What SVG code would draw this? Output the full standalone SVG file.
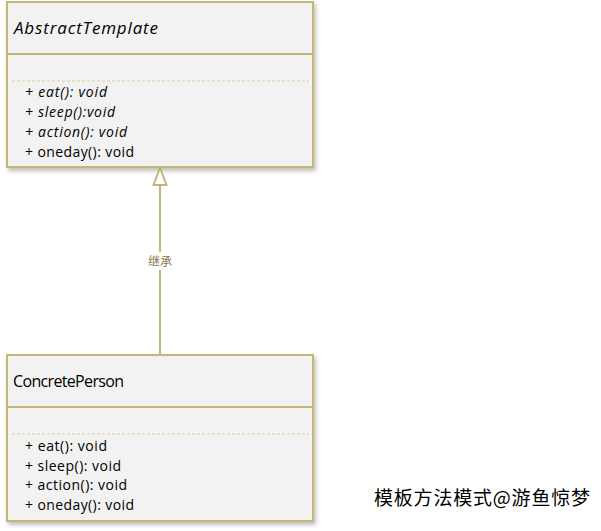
<svg xmlns="http://www.w3.org/2000/svg" width="601" height="531" viewBox="0 0 601 531">
<style>
.box{fill:#f2f2f2;stroke:#c1b877;stroke-width:2}
.div{stroke:#c1b877;stroke-width:2}
.dash{stroke:#d6cf9c;stroke-width:1.2;stroke-dasharray:3,2}
.t{font-family:"Open Sans","Liberation Sans",sans-serif;fill:#000}
.title{font-size:17px}
.m{font-size:14px}
.i{font-style:italic}
.lbl{font-family:"Noto Sans CJK SC",sans-serif;font-size:12px;fill:#8a7a50}
.cap{font-family:"Noto Sans CJK SC",sans-serif;font-size:19px;fill:#000}
</style>
<defs>
<filter id="sh" x="-5%" y="-5%" width="115%" height="115%">
<feDropShadow dx="2" dy="3" stdDeviation="2" flood-color="#000" flood-opacity="0.25"/>
</filter>
</defs>
<g id="AbstractTemplate">
<rect class="box" x="7" y="2" width="306" height="165" filter="url(#sh)"/>
<line class="div" x1="7" y1="54" x2="313" y2="54"/>
<line class="dash" x1="12" y1="81" x2="309" y2="81"/>
<text class="t title i" x="14" y="34" textLength="144">AbstractTemplate</text>
<text class="t m i" x="25" y="97" textLength="82">+ eat(): void</text>
<text class="t m i" x="25" y="117" textLength="90">+ sleep():void</text>
<text class="t m i" x="25" y="137" textLength="102">+ action(): void</text>
<text class="t m" x="25" y="157" textLength="109">+ oneday(): void</text>
</g>
<g id="ConcretePerson">
<rect class="box" x="7" y="355" width="306" height="166" filter="url(#sh)"/>
<line class="div" x1="7" y1="407" x2="313" y2="407"/>
<line class="dash" x1="12" y1="434" x2="309" y2="434"/>
<text class="t" style="font-size:16px" x="13" y="387" textLength="111">ConcretePerson</text>
<text class="t m" x="25" y="451" textLength="82">+ eat(): void</text>
<text class="t m" x="25" y="471" textLength="96">+ sleep(): void</text>
<text class="t m" x="25" y="490" textLength="102">+ action(): void</text>
<text class="t m" x="25" y="510" textLength="109">+ oneday(): void</text>
</g>
<g id="connectors">
<line x1="160" y1="354" x2="160" y2="185" stroke="#c1b877" stroke-width="2"/>
<polygon points="160,168 153.5,185 166.5,185" fill="#fff" stroke="#c1b877" stroke-width="2"/>
<rect x="144" y="252" width="32" height="18" fill="#fff"/>
<text class="lbl" x="160" y="266" text-anchor="middle">继承</text>
</g>
<text class="cap" x="374" y="505" textLength="216">模板方法模式@游鱼惊梦</text>
</svg>
